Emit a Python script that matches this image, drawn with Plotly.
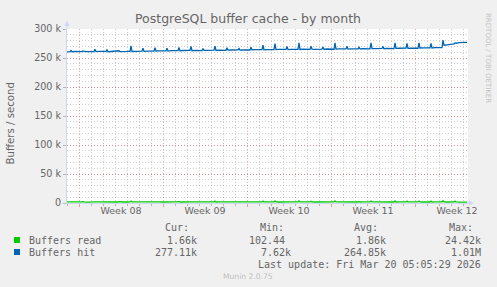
import plotly.graph_objects as go
from datetime import datetime, timedelta

# ---------------- data (values in thousands) -------------
START_DAY = datetime(2026, 2, 15)
SAMPLE_HOURS = [0, 6, 8, 10, 16]   # samples per day (08:00 = daily peak)

buffers_hit_k = [
    [260.5, 261.0, 263.0, 260.8, 261.2],  # Feb 15
    [260.8, 261.0, 262.2, 261.3, 260.9],
    [261.2, 260.9, 265.0, 261.0, 261.4],
    [261.0, 261.3, 264.5, 260.6, 261.2],
    [261.5, 261.2, 262.5, 261.0, 261.6],
    [261.3, 261.6, 271.0, 261.2, 261.8],
    [261.5, 261.9, 267.0, 261.4, 262.0],
    [262.0, 261.7, 268.0, 262.1, 262.3],
    [262.4, 262.2, 267.0, 262.0, 262.6],  # Feb 23
    [262.5, 262.8, 268.0, 262.3, 262.9],
    [262.7, 263.0, 270.0, 262.5, 263.1],
    [263.0, 262.8, 266.5, 263.2, 263.0],
    [263.2, 263.5, 270.5, 263.0, 263.6],
    [263.4, 263.2, 267.5, 263.6, 263.8],
    [263.7, 264.0, 266.5, 263.5, 264.1],
    [264.0, 263.8, 268.5, 264.2, 264.3],  # Mar 2
    [264.2, 264.5, 272.0, 264.0, 264.6],
    [264.5, 264.3, 275.0, 264.6, 264.8],
    [264.6, 264.9, 270.0, 264.4, 264.9],
    [264.8, 265.0, 276.0, 264.7, 265.1],
    [265.0, 264.8, 270.5, 265.2, 265.0],
    [265.2, 265.4, 269.0, 265.0, 265.5],
    [265.3, 265.1, 276.0, 265.4, 265.6],  # Mar 9
    [265.5, 265.7, 270.5, 265.3, 265.8],
    [265.6, 265.9, 268.5, 265.7, 266.0],
    [266.0, 265.8, 276.0, 266.1, 266.2],
    [266.2, 266.5, 270.0, 266.0, 266.6],
    [266.5, 266.3, 276.0, 266.7, 266.8],
    [266.8, 267.0, 275.0, 266.6, 267.1],
    [267.0, 266.8, 276.0, 267.2, 267.3],  # Mar 16
    [267.3, 267.5, 275.0, 267.2, 267.8],
    [268.0, 267.8, 281.0, 272.0, 272.8],
    [273.5, 274.5, 276.0, 275.5, 276.5],
    [277.5, 277.0, 277.1],                # Mar 20
]

buffers_read_k = [
    [1.8, 1.6, 2.6, 1.9, 1.7],
    [1.7, 1.9, 2.4, 1.8, 1.6],
    [1.9, 1.7, 2.9, 1.8, 1.8],
    [1.6, 1.8, 2.5, 1.7, 1.9],
    [1.8, 1.7, 2.3, 1.9, 1.7],
    [1.7, 1.9, 3.4, 1.8, 1.8],
    [1.9, 1.8, 2.6, 1.7, 1.9],
    [1.8, 1.6, 2.7, 1.9, 1.8],
    [1.7, 1.9, 2.5, 1.8, 1.7],
    [1.9, 1.8, 2.6, 1.7, 1.9],
    [1.8, 1.7, 3.0, 1.9, 1.8],
    [1.7, 1.9, 2.4, 1.8, 1.7],
    [1.9, 1.8, 3.1, 1.7, 1.8],
    [1.8, 1.7, 2.5, 1.9, 1.9],
    [1.7, 1.8, 2.4, 1.8, 1.7],
    [1.9, 1.7, 2.7, 1.7, 1.8],
    [1.8, 1.9, 3.2, 1.8, 1.9],
    [1.7, 1.8, 3.5, 1.9, 1.7],
    [1.9, 1.7, 2.8, 1.7, 1.8],
    [1.8, 1.9, 3.6, 1.8, 1.9],
    [1.7, 1.8, 2.9, 1.9, 1.7],
    [1.9, 1.7, 2.6, 1.7, 1.8],
    [1.8, 1.9, 3.5, 1.8, 1.9],
    [1.7, 1.8, 2.8, 1.9, 1.7],
    [1.9, 1.7, 2.6, 1.7, 1.8],
    [1.8, 1.9, 3.4, 1.8, 1.9],
    [1.7, 1.8, 2.7, 1.9, 1.7],
    [1.9, 1.7, 3.4, 1.7, 1.8],
    [1.8, 1.9, 3.2, 1.8, 1.9],
    [1.7, 1.8, 3.3, 1.9, 1.7],
    [1.9, 1.7, 3.1, 1.7, 1.8],
    [1.8, 1.9, 3.9, 1.8, 1.7],
    [1.7, 1.8, 3.2, 1.9, 1.6],
    [1.7, 1.6, 1.66],
]

y_tick_vals = [0, 50000, 100000, 150000, 200000, 250000, 300000]
y_tick_text = ["0", "50 k", "100 k", "150 k", "200 k", "250 k", "300 k"]
week_label_vals = ["2026-02-19 12:00", "2026-02-26 12:00", "2026-03-05 12:00",
                   "2026-03-12 12:00", "2026-03-19 12:00"]
week_label_text = ["Week 08", "Week 09", "Week 10", "Week 11", "Week 12"]

legend_names = ["Buffers read", "Buffers hit"]
legend_cur = ["1.66k", "277.11k"]
legend_min = ["102.44", "7.62k"]
legend_avg = ["1.86k", "264.85k"]
legend_max = ["24.42k", "1.01M"]
series_colors = ["#00CC00", "#0066B3"]


def expand(rows):
    xs, ys = [], []
    for d, row in enumerate(rows):
        for h, v in zip(SAMPLE_HOURS, row):
            xs.append(START_DAY + timedelta(days=d, hours=h))
            ys.append(v * 1000)
    return xs, ys


read_x, read_y = expand(buffers_read_k)
hit_x, hit_y = expand(buffers_hit_k)

# ---------------- layout geometry (pixels) ----------------
W, H = 497, 287
L, R, T, B = 67, 29, 29, 84
PW, PH = W - L - R, H - T - B
X_RANGE = ["2026-02-15 00:00", "2026-03-20 10:00"]


def px(x):
    return (x - L) / PW


def py(y):
    return (T + PH - y) / PH


FONT = "DejaVu Sans"
MONO = "DejaVu Sans Mono"
TXT = "#666666"
AXIS_COL = "#CFD6F8"
MINOR_GRID = "rgba(143,143,143,0.42)"
MAJOR_GRID = "rgba(222,79,79,0.5)"
DASH = "1px,2px"

fig = go.Figure()
fig.add_trace(go.Scatter(x=read_x, y=read_y, mode="lines",
                         line=dict(color=series_colors[0], width=1.3),
                         xaxis="x", yaxis="y", showlegend=False, hoverinfo="skip"))
fig.add_trace(go.Scatter(x=hit_x, y=hit_y, mode="lines",
                         line=dict(color=series_colors[1], width=1.3),
                         xaxis="x2", yaxis="y", showlegend=False, hoverinfo="skip"))

annotations = []
# y-axis title
annotations.append(dict(text="Buffers / second", x=px(10), y=py(123.5), xref="paper",
                        yref="paper", showarrow=False, textangle=-90,
                        font=dict(family=FONT, size=10.2, color=TXT),
                        xanchor="center", yanchor="middle"))
# watermark
annotations.append(dict(text="RRDTOOL / TOBI OETIKER", x=px(488), y=py(58), xref="paper",
                        yref="paper", showarrow=False, textangle=90,
                        font=dict(family=FONT, size=7, color="#c4c4c4"),
                        xanchor="center", yanchor="middle"))
# legend header
for lbl, xl in zip(["Cur:", "Min:", "Avg:", "Max:"], [163, 258, 352, 447]):
    annotations.append(dict(text=lbl, x=px(xl), y=py(227), xref="paper", yref="paper",
                            showarrow=False, xanchor="left", yanchor="middle",
                            font=dict(family=MONO, size=10, color=TXT)))
rows_y = [240, 252]
for i in range(2):
    yy = py(rows_y[i])
    annotations.append(dict(text=legend_names[i], x=px(27), y=yy, xref="paper", yref="paper",
                            showarrow=False, xanchor="left", yanchor="middle",
                            font=dict(family=MONO, size=10, color=TXT)))
    for val, xr in zip([legend_cur[i], legend_min[i], legend_avg[i], legend_max[i]],
                       [199, 293, 388, 483]):
        if not val[-1].isalpha():
            xr -= 6
        annotations.append(dict(text=val, x=px(xr), y=yy, xref="paper", yref="paper",
                                showarrow=False, xanchor="right", yanchor="middle",
                                font=dict(family=MONO, size=10, color=TXT)))
annotations.append(dict(text="Last update: Fri Mar 20 05:05:29 2026", x=px(483), y=py(264),
                        xref="paper", yref="paper", showarrow=False, xanchor="right",
                        yanchor="middle", font=dict(family=MONO, size=10, color=TXT)))
annotations.append(dict(text="Munin 2.0.75", x=px(248), y=py(276), xref="paper", yref="paper",
                        showarrow=False, xanchor="center", yanchor="middle",
                        font=dict(family=FONT, size=7.6, color="#c0c0c0")))

shapes = []
for i in range(2):
    shapes.append(dict(type="rect", xref="paper", yref="paper",
                       x0=px(14), x1=px(20), y0=py(rows_y[i] + 3), y1=py(rows_y[i] - 3),
                       fillcolor=series_colors[i], line=dict(width=0)))
# axis arrows
shapes.append(dict(type="line", xref="paper", yref="paper", x0=px(67), x1=px(67),
                   y0=py(29), y1=py(25), line=dict(color=AXIS_COL, width=1)))
shapes.append(dict(type="path", xref="paper", yref="paper",
                   path=f"M {px(67)},{py(20.5)} L {px(64.5)},{py(26)} L {px(69.5)},{py(26)} Z",
                   fillcolor=AXIS_COL, line=dict(width=0)))
shapes.append(dict(type="line", xref="paper", yref="paper", x0=px(468), x1=px(469),
                   y0=py(203), y1=py(203), line=dict(color=AXIS_COL, width=1)))
shapes.append(dict(type="path", xref="paper", yref="paper",
                   path=f"M {px(474)},{py(203)} L {px(468.5)},{py(200.5)} L {px(468.5)},{py(205.5)} Z",
                   fillcolor=AXIS_COL, line=dict(width=0)))

fig.update_layout(
    width=W, height=H, autosize=False,
    margin=dict(l=L, r=R, t=T, b=B, pad=0),
    paper_bgcolor="#F0F0F0", plot_bgcolor="#FFFFFF",
    title=dict(text="PostgreSQL buffer cache - by month", x=248 / W, xanchor="center",
               y=1 - 19 / H, yanchor="middle",
               font=dict(family=FONT, size=12.5, color=TXT)),
    xaxis=dict(type="date", range=X_RANGE, showticklabels=False,
               tickmode="linear", tick0="2026-02-16", dtick=7 * 86400000,
               showgrid=True, gridcolor=MAJOR_GRID, griddash=DASH, gridwidth=1,
               ticks="outside", ticklen=3, tickcolor=MAJOR_GRID,
               minor=dict(tickmode="linear", tick0="2026-02-15", dtick=86400000,
                          showgrid=True, gridcolor=MINOR_GRID, griddash=DASH,
                          ticks="outside", ticklen=2, tickcolor="rgba(143,143,143,0.6)"),
               showline=True, linecolor=AXIS_COL, linewidth=1, zeroline=False,
               fixedrange=True),
    xaxis2=dict(type="date", range=X_RANGE, overlaying="x", anchor="y", side="bottom",
                tickmode="array", tickvals=week_label_vals, ticktext=week_label_text,
                showgrid=False, ticks="", showline=False, zeroline=False,
                tickfont=dict(family=FONT, size=9.5, color=TXT), fixedrange=True),
    yaxis=dict(range=[0, 300000], tickmode="array", tickvals=y_tick_vals,
               ticktext=y_tick_text, showgrid=True, gridcolor=MAJOR_GRID,
               griddash=DASH, ticks="outside", ticklen=3,
               tickcolor="rgba(143,143,143,0.6)",
               minor=dict(tickmode="linear", tick0=0, dtick=10000, showgrid=True,
                          gridcolor=MINOR_GRID, griddash=DASH, ticks=""),
               showline=True, linecolor=AXIS_COL, linewidth=1, zeroline=False,
               tickfont=dict(family=FONT, size=9.6, color=TXT), fixedrange=True),
    annotations=annotations,
    shapes=shapes,
    showlegend=False,
)

fig.write_html("out.html", config={"displayModeBar": False})
